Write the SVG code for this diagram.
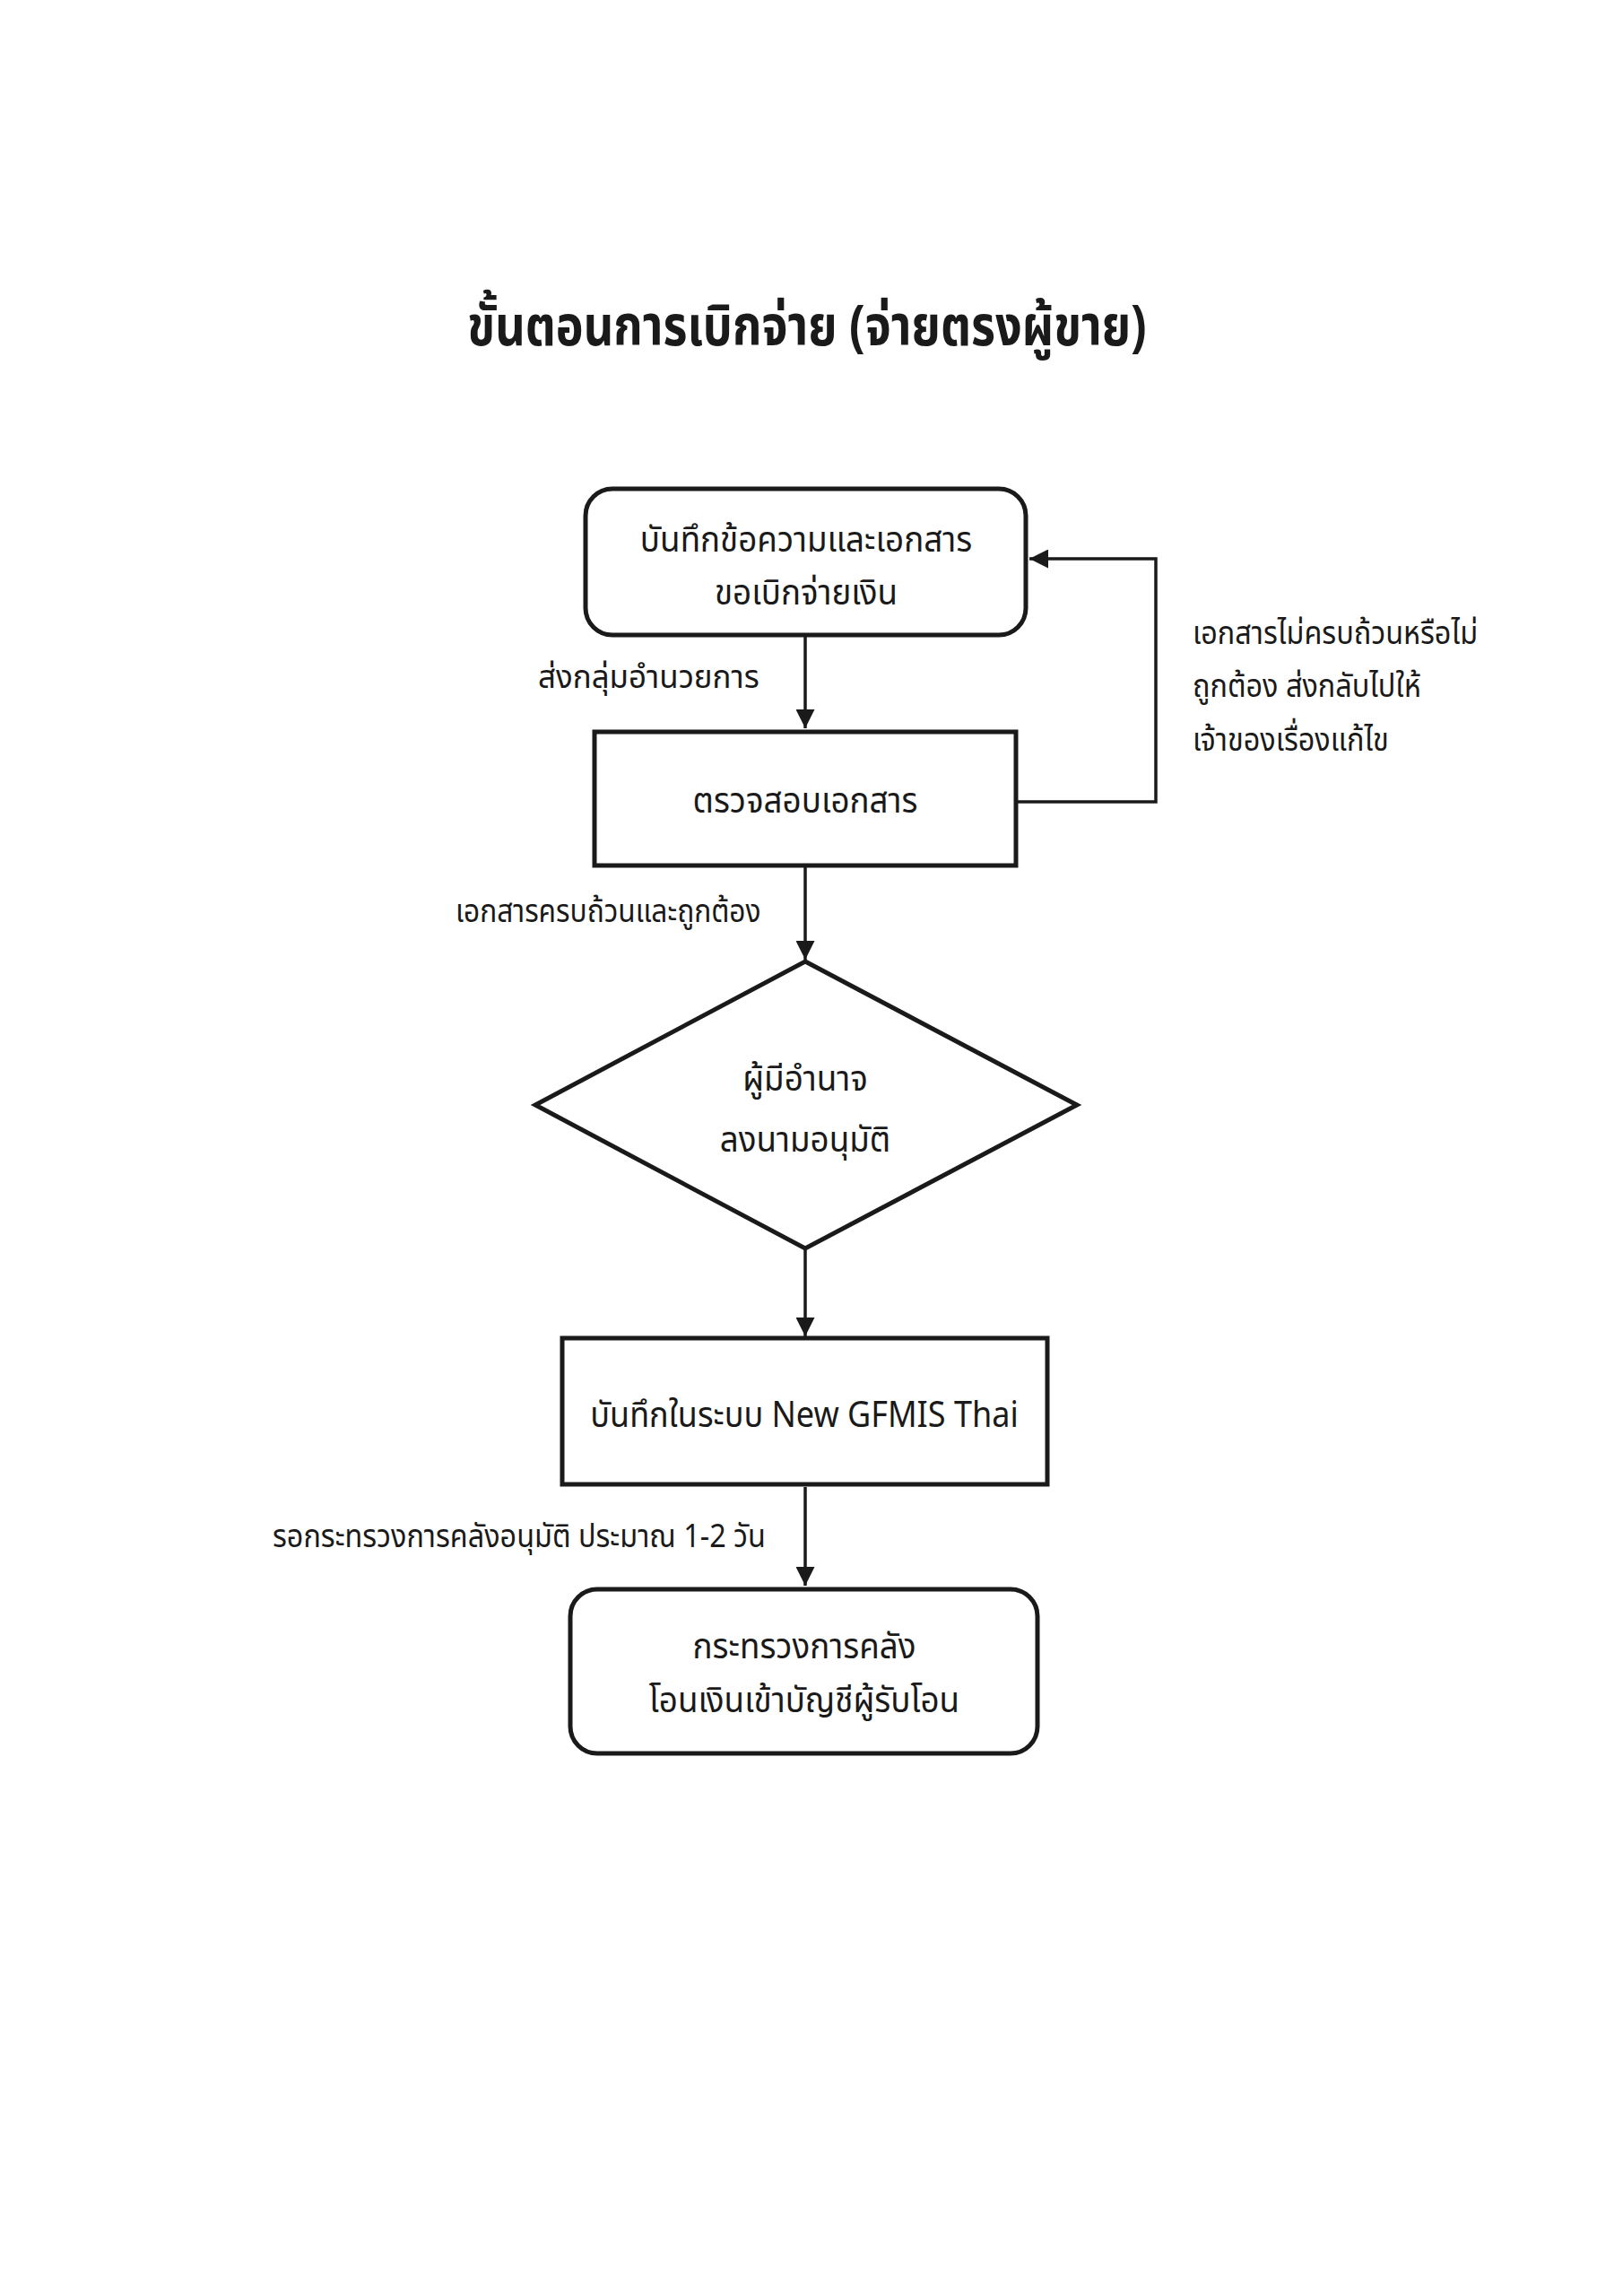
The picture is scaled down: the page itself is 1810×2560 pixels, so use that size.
<svg xmlns="http://www.w3.org/2000/svg" width="1810" height="2560" viewBox="0 0 1810 2560">
<defs>
<marker id="ah" viewBox="0 0 10 10" refX="10" refY="5" markerWidth="6" markerHeight="6" markerUnits="strokeWidth" orient="auto">
<path d="M0,0 L10,5 L0,10 Z" fill="#1a1a1a"/>
</marker>
<style>
.t{font-family:"Noto Sans Thai","Noto Sans","DejaVu Sans",sans-serif;fill:#1a1a1a;}
.title{font-size:62px;font-weight:bold;text-anchor:middle;}
.n{font-size:40px;text-anchor:middle;}
.l{font-size:36px;}
.box{fill:#fff;stroke:#1a1a1a;stroke-width:5;}
.c{fill:none;stroke:#1a1a1a;stroke-width:3.5;marker-end:url(#ah);}
</style>
</defs>
<rect width="1810" height="2560" fill="#fff"/>
<text class="t title" transform="translate(900,385) scale(0.84,1)">ขั้นตอนการเบิกจ่าย (จ่ายตรงผู้ขาย)</text>
<g id="connectors">
<line class="c" x1="898" y1="708" x2="898" y2="812"/>
<polyline class="c" points="1133,894 1289,894 1289,623 1148,623"/>
<line class="c" x1="898" y1="965" x2="898" y2="1070"/>
<line class="c" x1="898" y1="1392" x2="898" y2="1490"/>
<line class="c" x1="898" y1="1658" x2="898" y2="1768"/>
<text class="t l" transform="translate(600,767) scale(0.97,1)">ส่งกลุ่มอำนวยการ</text>
<text class="t l" transform="translate(1330,718) scale(0.9,1)">เอกสารไม่ครบถ้วนหรือไม่</text>
<text class="t l" transform="translate(1330,777) scale(0.9,1)">ถูกต้อง ส่งกลับไปให้</text>
<text class="t l" transform="translate(1330,837) scale(0.9,1)">เจ้าของเรื่องแก้ไข</text>
<text class="t l" transform="translate(508,1028) scale(0.88,1)">เอกสารครบถ้วนและถูกต้อง</text>
<text class="t l" transform="translate(304,1725) scale(0.9,1)">รอกระทรวงการคลังอนุมัติ ประมาณ 1-2 วัน</text>
</g>
<g id="n1">
<rect class="box" x="653" y="545" width="491" height="163" rx="30"/>
<text class="t n" transform="translate(899,615) scale(0.92,1)">บันทึกข้อความและเอกสาร</text>
<text class="t n" transform="translate(899,674) scale(0.92,1)">ขอเบิกจ่ายเงิน</text>
</g>
<g id="n2">
<rect class="box" x="663" y="816" width="470" height="149"/>
<text class="t n" transform="translate(898,906) scale(0.92,1)">ตรวจสอบเอกสาร</text>
</g>
<g id="n3">
<polygon class="box" points="898,1072 1201,1232 898,1392 597,1232"/>
<text class="t n" transform="translate(898,1216) scale(0.92,1)">ผู้มีอำนาจ</text>
<text class="t n" transform="translate(898,1284) scale(0.92,1)">ลงนามอนุมัติ</text>
</g>
<g id="n4">
<rect class="box" x="627" y="1492" width="541" height="163"/>
<text class="t n" transform="translate(897,1591) scale(0.9,1)">บันทึกในระบบ New GFMIS Thai</text>
</g>
<g id="n5">
<rect class="box" x="636" y="1772" width="521" height="183" rx="30"/>
<text class="t n" transform="translate(897,1849) scale(0.92,1)">กระทรวงการคลัง</text>
<text class="t n" transform="translate(897,1909) scale(0.92,1)">โอนเงินเข้าบัญชีผู้รับโอน</text>
</g>
</svg>
